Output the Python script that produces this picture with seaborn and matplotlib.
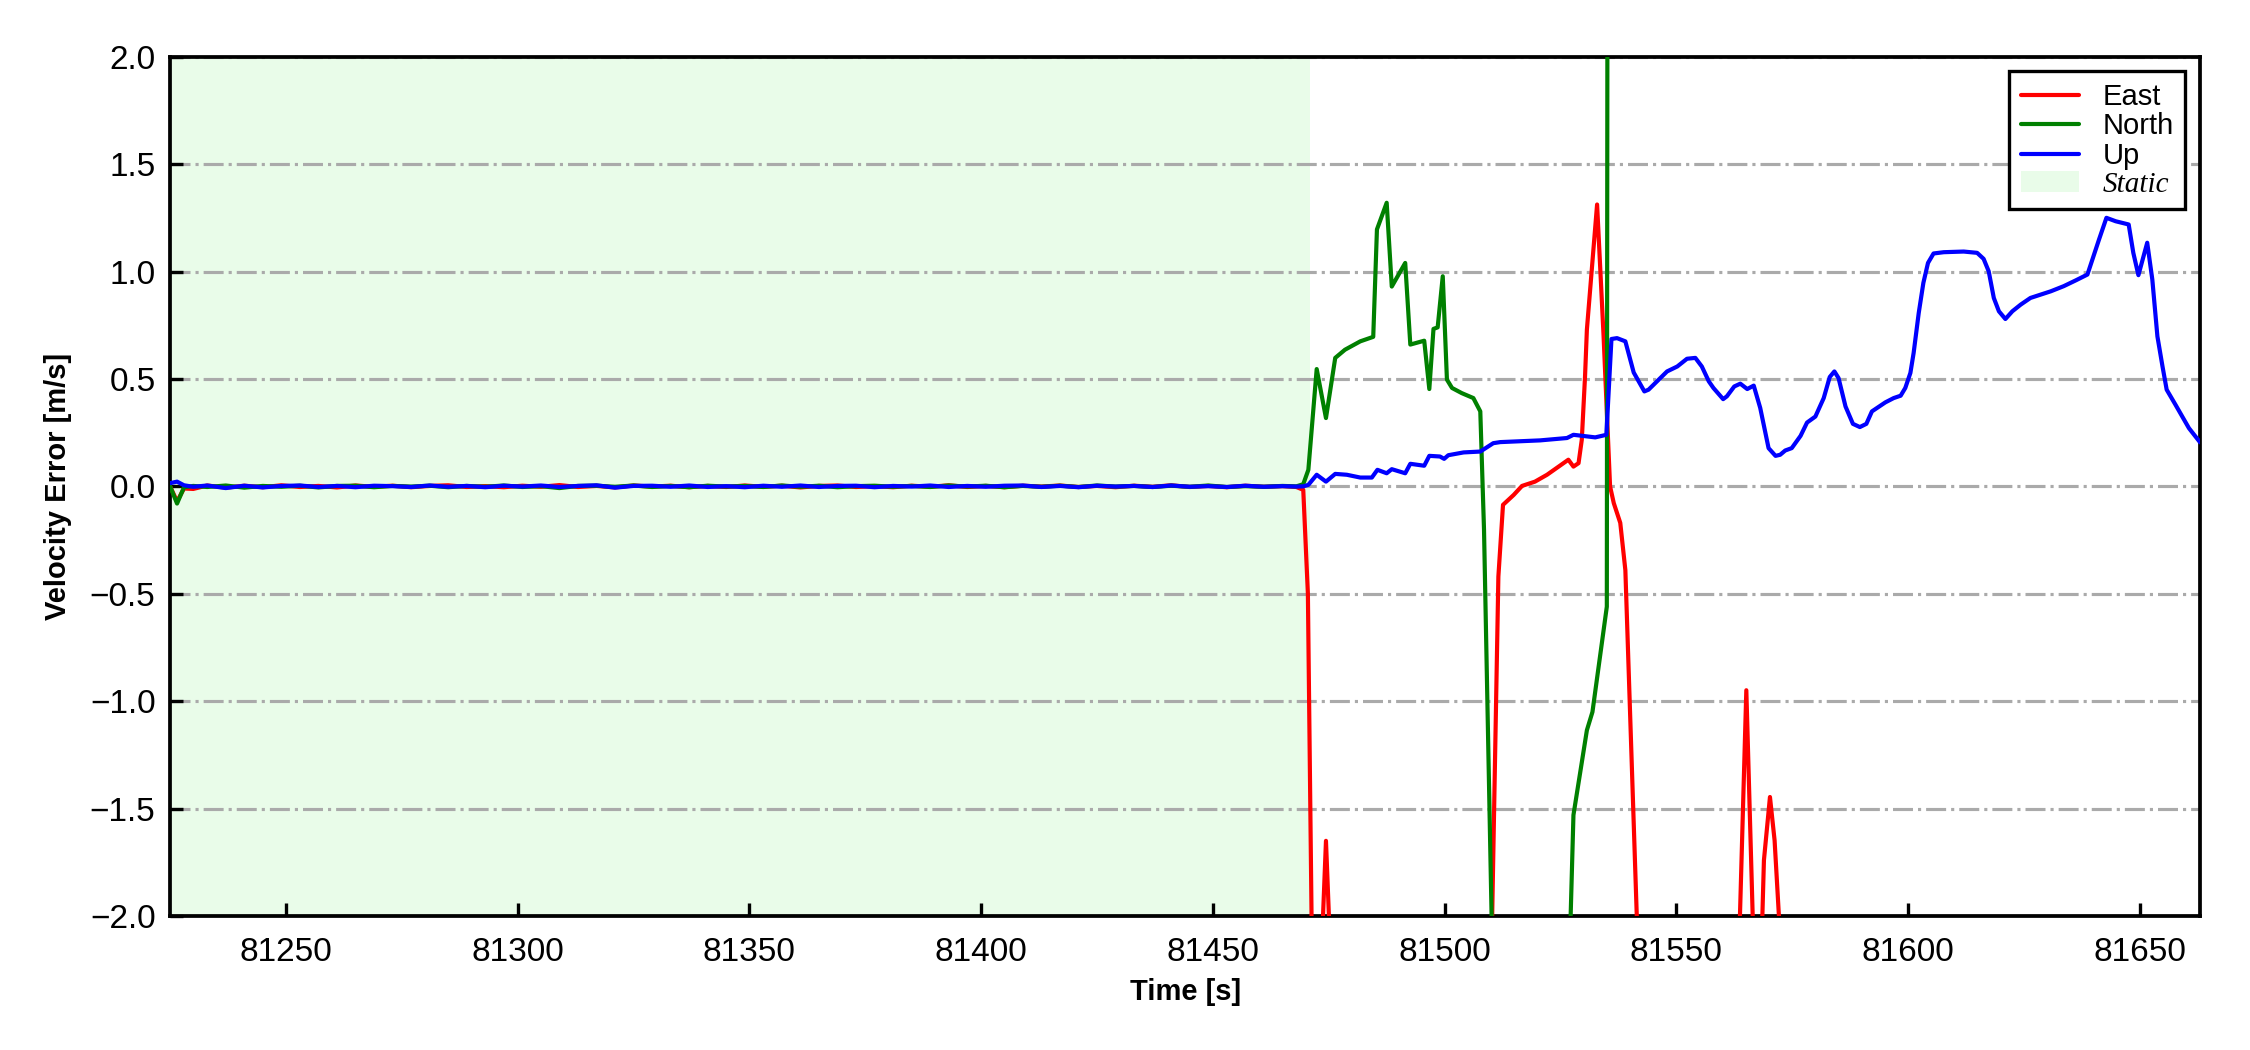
import numpy as np
import pandas as pd
import matplotlib
matplotlib.use('Agg')
import matplotlib.pyplot as plt
from matplotlib.lines import Line2D
from matplotlib.patches import Patch
import seaborn as sns

# ── data ─────────────────────────────────────────────────────────────────────
static_start, static_end = 81225, 81471

t_static = [81225, 81226.5, 81228, 81230, 81233, 81237, 81241, 81245,
            81249, 81253, 81257, 81261, 81265, 81269, 81273, 81277,
            81281, 81285, 81289, 81293, 81297, 81301, 81305, 81309,
            81313, 81317, 81321, 81325, 81329, 81333, 81337, 81341,
            81345, 81349, 81353, 81357, 81361, 81365, 81369, 81373,
            81377, 81381, 81385, 81389, 81393, 81397, 81401, 81405,
            81409, 81413, 81417, 81421, 81425, 81429, 81433, 81437,
            81441, 81445, 81449, 81453, 81457, 81461, 81465, 81468]

east_static = [0.000, -0.070, -0.010, -0.012, 0.004, -0.006, 0.003, -0.004,
               0.005, -0.003, 0.002, -0.005, 0.004, -0.002, 0.003, -0.004,
               0.002, 0.005, -0.003, 0.001, -0.004, 0.003, -0.002, 0.006,
               -0.003, 0.002, -0.005, 0.004, -0.001, 0.003, -0.004, 0.002,
               -0.003, 0.004, -0.002, 0.003, -0.005, 0.002, 0.004, -0.003,
               0.001, -0.004, 0.003, -0.002, 0.005, -0.003, 0.002, -0.004,
               0.003, -0.001, 0.004, -0.003, 0.002, -0.004, 0.003, -0.002,
               0.005, -0.003, 0.002, -0.004, 0.003, -0.002, 0.001, -0.003]
north_static = [0.000, -0.080, -0.004, 0.002, -0.003, 0.004, -0.006, 0.002,
                -0.002, 0.003, -0.005, 0.002, 0.003, -0.004, 0.002, -0.001,
                0.003, -0.004, 0.002, -0.002, 0.004, -0.003, 0.001, -0.008,
                0.002, 0.003, -0.002, 0.004, -0.003, 0.002, -0.004, 0.003,
                -0.001, 0.002, -0.003, 0.004, -0.002, 0.003, -0.004, 0.001,
                0.003, -0.002, 0.002, -0.003, 0.004, -0.001, 0.003, -0.004,
                0.002, -0.002, 0.003, -0.003, 0.004, -0.001, 0.002, -0.003,
                0.003, -0.002, 0.004, -0.003, 0.001, -0.002, 0.002, 0.000]
up_static = [0.015, 0.022, 0.005, -0.002, 0.004, -0.008, 0.003, -0.005,
             0.002, 0.004, -0.003, 0.002, -0.004, 0.003, 0.001, -0.003,
             0.004, -0.002, 0.002, -0.004, 0.003, -0.001, 0.004, -0.003,
             0.002, 0.005, -0.006, 0.002, 0.003, -0.002, 0.004, -0.003,
             0.001, -0.004, 0.003, -0.002, 0.004, -0.003, 0.002, 0.003,
             -0.004, 0.002, -0.001, 0.004, -0.003, 0.002, -0.002, 0.003,
             0.004, -0.003, 0.002, -0.004, 0.003, -0.001, 0.002, -0.003,
             0.004, -0.002, 0.001, -0.003, 0.003, -0.002, 0.001, -0.001]

t_east = [81469.5, 81470.5, 81471.5, 81473.4, 81474.4, 81475.4, 81490.0, 81509.5,
          81511.6, 81512.6, 81514.9, 81516.7, 81519.5, 81522.1, 81524.6, 81526.7,
          81527.8, 81528.9, 81529.6, 81530.3, 81530.7, 81532.9, 81534.3, 81535.7,
          81536.5, 81537.9, 81539.0, 81542.0, 81555.0, 81563.2, 81565.1, 81567.0,
          81568.3, 81568.9, 81570.2, 81571.2, 81572.4, 81600.0, 81663.0]
east = [-0.016, -0.50, -2.40, -2.20, -1.65, -2.20, -2.90, -2.90,
        -0.42, -0.086, -0.040, 0.002, 0.022, 0.054, 0.092, 0.124,
        0.092, 0.108, 0.217, 0.512, 0.730, 1.312, 0.700, 0.000,
        -0.078, -0.170, -0.390, -2.350, -2.800, -2.400, -0.949, -2.400,
        -2.200, -1.740, -1.446, -1.648, -2.100, -2.800, -2.800]

t_north = [81469.5, 81470.6, 81472.4, 81474.4, 81476.4, 81478.5, 81481.8, 81484.6,
           81485.4, 81487.5, 81488.6, 81491.5, 81492.6, 81495.6, 81496.7, 81497.6,
           81498.5, 81499.6, 81500.5, 81501.6, 81503.7, 81506.2, 81507.7, 81508.5,
           81510.5, 81518.0, 81527.0, 81527.8, 81530.7, 81531.9, 81535.0, 81535.3]
north = [0.010, 0.077, 0.546, 0.318, 0.598, 0.636, 0.675, 0.696,
         1.196, 1.320, 0.930, 1.040, 0.660, 0.678, 0.453, 0.733,
         0.740, 0.978, 0.497, 0.458, 0.434, 0.411, 0.349, -0.200,
         -2.400, -2.900, -2.150, -1.530, -1.135, -1.050, -0.560, 6.000]

t_up = [81469.5, 81470.6, 81472.4, 81474.4, 81476.4, 81478.9, 81481.8, 81484.3,
        81485.5, 81487.5, 81488.6, 81491.5, 81492.6, 81495.6, 81496.7, 81499.0,
        81499.9, 81500.8, 81504.1, 81507.7, 81510.5, 81512.0, 81520.6, 81526.4,
        81527.8, 81532.5, 81534.9, 81536.0, 81537.2, 81539.0, 81540.8, 81543.1,
        81544.0, 81548.0, 81550.2, 81552.3, 81554.1, 81555.5, 81557.0, 81558.0,
        81560.1, 81560.9, 81562.5, 81563.8, 81565.3, 81566.7, 81568.1, 81569.9,
        81571.4, 81572.4, 81573.5, 81574.9, 81576.8, 81578.2, 81580.0, 81581.8,
        81583.1, 81584.1, 81585.0, 81586.5, 81588.1, 81589.6, 81591.0, 81592.2,
        81595.1, 81596.9, 81598.4, 81599.4, 81600.5, 81601.2, 81602.3, 81603.3,
        81604.3, 81605.5, 81607.7, 81612.0, 81614.9, 81616.3, 81617.4, 81618.5,
        81619.6, 81621.0, 81622.5, 81624.3, 81626.4, 81630.8, 81633.6, 81636.2,
        81638.7, 81641.2, 81642.8, 81644.8, 81647.6, 81648.6, 81649.7, 81651.6,
        81652.7, 81653.8, 81654.9, 81655.8, 81657.7, 81660.6, 81663.0]
up = [0.000, 0.007, 0.054, 0.022, 0.058, 0.054, 0.041, 0.041,
      0.077, 0.061, 0.080, 0.061, 0.105, 0.096, 0.142, 0.139,
      0.128, 0.145, 0.158, 0.162, 0.201, 0.206, 0.214, 0.225,
      0.240, 0.228, 0.240, 0.686, 0.690, 0.675, 0.530, 0.442,
      0.450, 0.535, 0.558, 0.594, 0.598, 0.558, 0.489, 0.458,
      0.406, 0.419, 0.465, 0.478, 0.453, 0.469, 0.365, 0.178,
      0.142, 0.147, 0.167, 0.178, 0.235, 0.297, 0.325, 0.411,
      0.509, 0.535, 0.504, 0.372, 0.291, 0.276, 0.291, 0.349,
      0.391, 0.411, 0.422, 0.458, 0.528, 0.621, 0.807, 0.947,
      1.040, 1.084, 1.090, 1.093, 1.087, 1.059, 1.001, 0.877,
      0.815, 0.779, 0.815, 0.846, 0.877, 0.908, 0.932, 0.959,
      0.986, 1.149, 1.250, 1.234, 1.219, 1.087, 0.983, 1.134,
      0.963, 0.698, 0.558, 0.450, 0.380, 0.271, 0.205]

labels = ['East', 'North', 'Up']
colors = ['red', 'green', 'blue']
static_color = '#e9fce9'

frames = []
for name, ts, vs, td, vd in [('East', t_static, east_static, t_east, east),
                             ('North', t_static, north_static, t_north, north),
                             ('Up', t_static, up_static, t_up, up)]:
    frames.append(pd.DataFrame({'time': list(ts) + list(td),
                                'err': list(vs) + list(vd),
                                'axis': name}))
df = pd.concat(frames, ignore_index=True)

# ── style ────────────────────────────────────────────────────────────────────
sns.set_style('white')
plt.rcParams['font.family'] = ['Liberation Sans', 'DejaVu Sans']
plt.rcParams['axes.unicode_minus'] = True

fig = plt.figure(figsize=(7.5, 3.5), dpi=300)
ax = fig.add_axes([0.0756, 0.1276, 0.9022, 0.8184])

ax.axvspan(static_start, static_end, color=static_color, lw=0, zorder=0)
sns.lineplot(data=df, x='time', y='err', hue='axis', hue_order=labels,
             palette=dict(zip(labels, colors)), estimator=None, sort=False,
             lw=1.0, legend=False, ax=ax, zorder=3)

ax.set_xlim(static_start, 81663)
ax.set_ylim(-2, 2)
ax.set_xticks(np.arange(81250, 81651, 50))
ax.set_yticks(np.arange(-2, 2.01, 0.5))
ax.yaxis.grid(True, linestyle='-.', color='#aaaaaa', lw=0.75, zorder=1)
ax.xaxis.grid(False)
ax.tick_params(axis='both', direction='in', length=3.2, width=0.8, labelsize=8,
               colors='black', bottom=True, left=True, top=False, right=False)
ax.tick_params(axis='x', pad=5)
ax.tick_params(axis='y', pad=3.5)
for s in ax.spines.values():
    s.set_color('black'); s.set_linewidth(0.9)

ax.set_xlabel('Time [s]', fontsize=7, fontweight='bold', labelpad=2.5, color='black')
ax.set_ylabel('Velocity Error [m/s]', fontsize=7, fontweight='bold', labelpad=4.3,
              color='black')

handles = [Line2D([0], [0], color=c, lw=1.0) for c in colors]
handles.append(Patch(facecolor=static_color, edgecolor='none'))
leg = ax.legend(handles, labels + ['Static'], loc='upper right', fontsize=7,
                frameon=True, fancybox=False, framealpha=1, edgecolor='black',
                labelspacing=0.05, borderaxespad=0.5)
leg.get_frame().set_linewidth(0.8)
for txt in leg.get_texts():
    txt.set_color('black')
leg.get_texts()[3].set_fontfamily('Liberation Serif')
leg.get_texts()[3].set_fontstyle('italic')

fig.savefig('out.png', dpi=300)
